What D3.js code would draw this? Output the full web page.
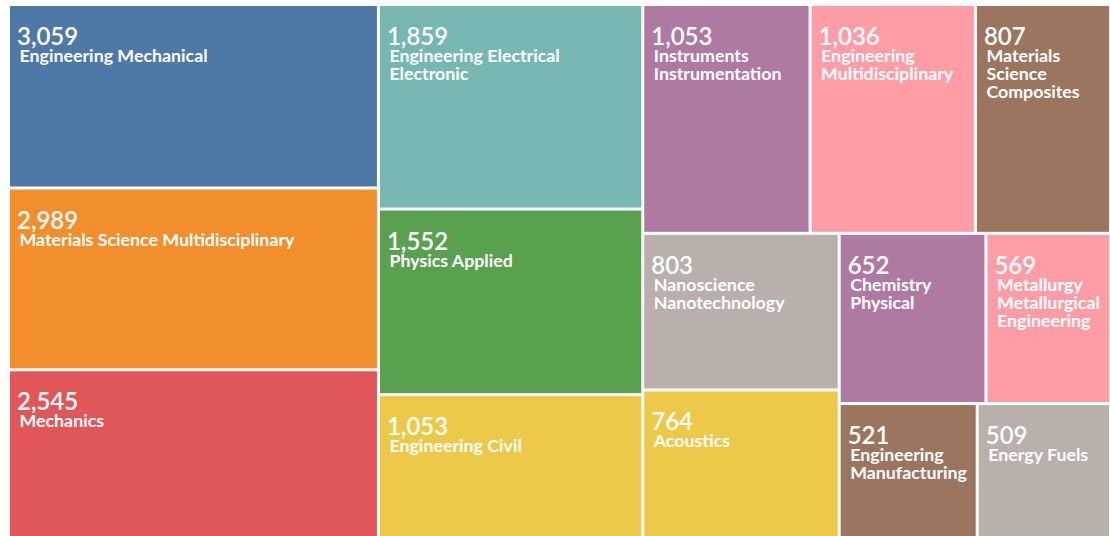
<!DOCTYPE html>
<html>
<head>
<meta charset="utf-8">
<script src="https://cdn.jsdelivr.net/npm/d3@7"></script>
<style>
  html, body { margin: 0; padding: 0; background: #ffffff; }
  svg { display: block; }
  text { font-family: "Source Sans Pro", Lato, "Noto Sans", sans-serif; fill: #ffffff; }
</style>
</head>
<body>
<svg id="chart" width="1110" height="536"></svg>
<script>
// ---- data ----
const categories = [
  "Engineering Mechanical",
  "Materials Science Multidisciplinary",
  "Mechanics",
  "Engineering Electrical Electronic",
  "Physics Applied",
  "Engineering Civil",
  "Instruments Instrumentation",
  "Engineering Multidisciplinary",
  "Materials Science Composites",
  "Nanoscience Nanotechnology",
  "Acoustics",
  "Chemistry Physical",
  "Metallurgy Metallurgical Engineering",
  "Engineering Manufacturing",
  "Energy Fuels"
];
const values = [3059, 2989, 2545, 1859, 1552, 1053, 1053, 1036, 807, 803, 764, 652, 569, 521, 509];

// ---- chart ----
const svg = d3.select("#chart");
const margin = { left: 10, top: 6 };
const width = 1099, height = 532;
const labelSize = 17.8;

// tile weight: log-scaled value (as in the reference)
const weight = d3.scaleLog().domain([265, 2650]).range([0, 1]);

const colorRange = d3.schemeTableau10.concat(d3.schemeTableau10.slice(5));
const color = d3.scaleOrdinal().domain(categories).range(colorRange);

const rows = categories.map((c, i) => ({ name: c, value: values[i] }));
const root = d3.hierarchy({ children: rows })
  .sum(d => d.value !== undefined ? weight(d.value) : 0)
  .sort((a, b) => b.value - a.value);

d3.treemap()
  .tile(d3.treemapSquarify)
  .size([width, height])
  .paddingInner(3)(root);

const g = svg.append("g").attr("transform", `translate(${margin.left},${margin.top})`);
const fmt = d3.format(",");

const cell = g.selectAll("g.cell")
  .data(root.leaves())
  .join("g")
  .attr("class", "cell")
  .attr("transform", d => `translate(${d.x0},${d.y0})`);

cell.append("rect")
  .attr("width", d => d.x1 - d.x0)
  .attr("height", d => d.y1 - d.y0)
  .attr("fill", d => color(d.data.name));

cell.append("text")
  .attr("x", 7)
  .attr("y", 39)
  .style("font-size", "24px")
  .style("font-weight", 600)
  .text(d => fmt(d.data.value));

// greedy word wrap
const measure = svg.append("text")
  .style("font-size", labelSize + "px").style("font-weight", 700)
  .attr("visibility", "hidden");
function wrap(label, maxW) {
  const words = label.split(" ");
  const lines = [];
  let cur = "";
  words.forEach(w => {
    const test = cur ? cur + " " + w : w;
    measure.text(test);
    if (cur && measure.node().getComputedTextLength() > maxW) {
      lines.push(cur);
      cur = w;
    } else cur = test;
  });
  if (cur) lines.push(cur);
  return lines;
}

cell.each(function(d) {
  const lines = wrap(d.data.name, (d.x1 - d.x0) - 18);
  const t = d3.select(this).append("text")
    .attr("x", 9.5)
    .attr("y", 56)
    .style("font-size", labelSize + "px")
    .style("font-weight", 700);
  lines.forEach((ln, i) => {
    t.append("tspan").attr("x", 9.5).attr("dy", i === 0 ? 0 : 18).text(ln);
  });
});
measure.remove();
</script>
</body>
</html>
